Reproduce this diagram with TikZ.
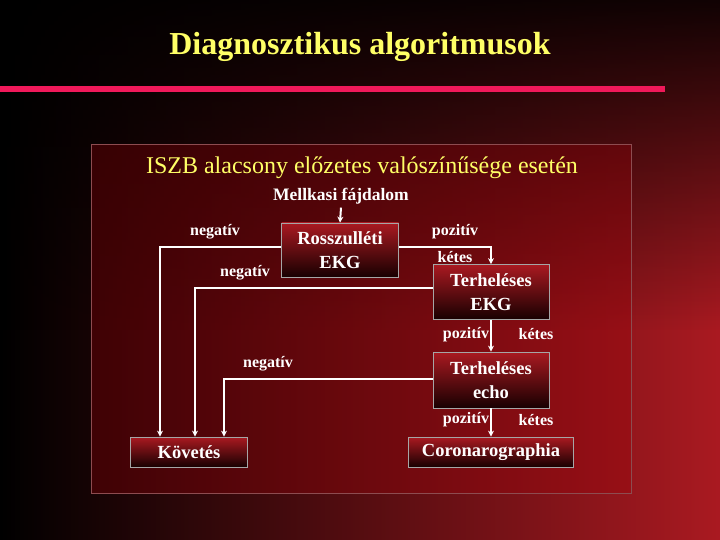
\documentclass[tikz,border=0pt]{standalone}
\usepackage{fontspec}
\setmainfont{Liberation Serif}
\usetikzlibrary{arrows.meta, positioning, fadings}
\definecolor{DeepRed}{HTML}{A00008}
\definecolor{TitleYellow}{HTML}{FFFF66}
\definecolor{LinePink}{HTML}{F0195A}
\tikzset{
  stepbox/.style={draw=gray!70, line width=0.8pt, inner sep=0pt, align=center,
    text=white, font=\fontsize{18.5}{24}\selectfont\bfseries,
    top color=DeepRed!90, bottom color=black!85!DeepRed},
  lbl/.style={text=white, font=\fontsize{16}{18}\selectfont\bfseries},
  link/.style={white, line width=2pt, -{Stealth[length=6pt,width=6pt]}}
}
\begin{document}
\begin{tikzpicture}[x=1pt, y=-1pt]
    % background
    \shade[left color=black, right color=DeepRed!90] (0,0) rectangle (720,540);
    \fill[black, path fading=south, fill opacity=0.9] (0,0) rectangle (720,330);
    \useasboundingbox (0,0) rectangle (720,540);

    % title and rule
    \node[text=TitleYellow, font=\fontsize{32}{36}\selectfont\bfseries] (title) at (360,47) {Diagnosztikus algoritmusok};
    \fill[LinePink] (0,86) rectangle (665,92);

    % panel
    \draw[gray!60!DeepRed, line width=1pt, fill=DeepRed, fill opacity=0.3] (91,145) rectangle (631,493);
    \node[text=TitleYellow, font=\fontsize{24}{28}\selectfont] (sub) at (362,168) {ISZB alacsony előzetes valószínűsége esetén};
    \node[text=white, font=\fontsize{17.5}{20}\selectfont\bfseries] (pain) at (341,196) {Mellkasi fájdalom};

    % boxes
    \node[stepbox, minimum width=117pt, minimum height=54pt] (ross) at (340,250) {Rosszulléti\\EKG};
    \node[stepbox, minimum width=116pt, minimum height=55pt] (tekg) at (491,292) {Terheléses\\EKG};
    \node[stepbox, minimum width=116pt, minimum height=56pt] (echo) at (491,380) {Terheléses\\echo};
    \node[stepbox, minimum width=117pt, minimum height=30pt] (kov) at (189,452) {Követés};
    \node[stepbox, minimum width=165pt, minimum height=30pt] (coro) at (491,452) {Coronarographia};

    % connectors
    \coordinate (c1) at (160,247);
    \coordinate (c2) at (491,247);
    \coordinate (c3) at (195,288);
    \coordinate (c4) at (224,379);
    \draw[link] (pain.south) -- (ross.north);
    \draw[link] (ross.west |- c1) -- (c1) -- (c1 |- kov.north);
    \draw[link] (ross.east |- c2) -- (c2) -- (tekg.north);
    \draw[link] (tekg.west |- c3) -- (c3) -- (c3 |- kov.north);
    \draw[link] (echo.west |- c4) -- (c4) -- (c4 |- kov.north);
    \draw[link] (tekg.south) -- (echo.north);
    \draw[link] (echo.south) -- (coro.north);

    % labels
    \node[lbl] (n1) at (215,232) {negatív};
    \node[lbl] (n2) at (245,273) {negatív};
    \node[lbl] (n3) at (268,364) {negatív};
    \node[lbl] (p1) at (455,232) {pozitív};
    \node[lbl] (k1) at (455,257) {kétes};
    \node[lbl] (p2) at (466,335) {pozitív};
    \node[lbl] (k2) at (536,334) {kétes};
    \node[lbl] (p3) at (466,420) {pozitív};
    \node[lbl] (k3) at (536,420) {kétes};
\end{tikzpicture}
\end{document}
